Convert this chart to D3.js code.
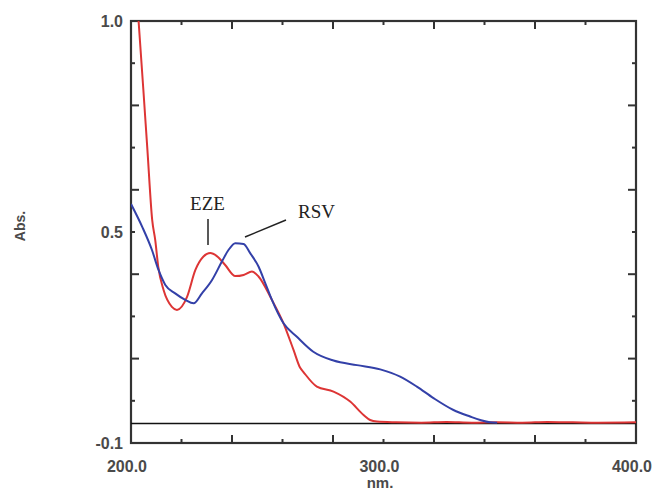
<!DOCTYPE html>
<html>
<head>
<meta charset="utf-8">
<script src="https://cdn.jsdelivr.net/npm/d3@7"></script>
<style>
  body { margin: 0; background: #fff; }
  svg { display: block; }
</style>
</head>
<body>
<div id="chart"></div>
<script>
// wavelength (nm) and absorbance
const ezeNm = [203.0, 204.9, 206.5, 208.4, 209.6, 210.8, 212.9, 216.2, 218.2, 222.2, 225.5, 228.7, 231.4, 234.0,
  237.3, 241.3, 244.6, 247.9, 250.5, 255.8, 260.4, 264.4, 267.0, 268.3, 273.6, 280.2, 286.8, 292.1, 294.7,
  297.4, 305, 315, 325, 335, 345, 355, 365, 375, 385, 400];
const ezeAbs = [1.0, 0.820, 0.664, 0.481, 0.429, 0.359, 0.299, 0.255, 0.247, 0.281, 0.351, 0.386, 0.395, 0.387,
  0.364, 0.335, 0.338, 0.347, 0.334, 0.273, 0.212, 0.142, 0.096, 0.085, 0.047, 0.034, 0.008, -0.027, -0.040,
  -0.044, -0.046, -0.047, -0.045, -0.047, -0.046, -0.047, -0.045, -0.046, -0.047, -0.046];

const rsvNm = [200.0, 204.4, 208.3, 210.9, 213.6, 217.5, 221.5, 224.8, 228.1, 232.1, 236.0, 238.6, 241.3, 244.6,
  247.2, 250.5, 253.2, 255.8, 260.4, 265.7, 272.2, 280.2, 289.5, 298.7, 306.6, 313.2, 319.8, 327.7, 334.3,
  338.3, 342.2, 345.0];
const rsvAbs = [0.523, 0.464, 0.403, 0.351, 0.312, 0.290, 0.273, 0.264, 0.290, 0.325, 0.373, 0.403, 0.421, 0.419,
  0.395, 0.360, 0.316, 0.273, 0.212, 0.177, 0.138, 0.115, 0.103, 0.092, 0.073, 0.047, 0.017, -0.014, -0.031,
  -0.040, -0.046, -0.047];

const xTickLabels = ["200.0", "300.0", "400.0"];
const yTickLabels = ["-0.1", "0.5", "1.0"];
const baselineAbs = -0.049;

const width = 655, height = 490;
const plot = { left: 131, right: 636, top: 21, bottom: 443 };

const svg = d3.select("#chart").append("svg")
  .attr("width", width)
  .attr("height", height);

const x = d3.scaleLinear().domain([200, 400]).range([plot.left, plot.right]);
const y = d3.scaleLinear().domain([-0.1, 1.0]).range([plot.bottom, plot.top]);

svg.append("clipPath").attr("id", "clip")
  .append("rect")
  .attr("x", plot.left).attr("y", plot.top)
  .attr("width", plot.right - plot.left).attr("height", plot.bottom - plot.top);

// minor ticks every 20 nm, longer every 40 nm
const xTicks = d3.range(220, 400, 20);
const yStep = 1.1 / 10;
const yTicks = d3.range(1, 10).map(k => -0.1 + k * yStep);

const tickG = svg.append("g").attr("stroke", "#333").attr("stroke-width", 2);
xTicks.forEach((t, i) => {
  const len = (i % 2 === 1) ? 8 : 4;
  tickG.append("line").attr("x1", x(t)).attr("x2", x(t)).attr("y1", plot.bottom).attr("y2", plot.bottom - len);
  tickG.append("line").attr("x1", x(t)).attr("x2", x(t)).attr("y1", plot.top).attr("y2", plot.top + len);
});
yTicks.forEach((t, i) => {
  const len = (i % 2 === 0) ? 4 : 8;
  tickG.append("line").attr("y1", y(t)).attr("y2", y(t)).attr("x1", plot.left).attr("x2", plot.left + len);
  tickG.append("line").attr("y1", y(t)).attr("y2", y(t)).attr("x1", plot.right).attr("x2", plot.right - len);
});

// frame
svg.append("rect")
  .attr("x", plot.left).attr("y", plot.top)
  .attr("width", plot.right - plot.left).attr("height", plot.bottom - plot.top)
  .attr("fill", "none").attr("stroke", "#333").attr("stroke-width", 2.2);

// tick labels: min, middle, max (like the instrument software)
const labelFont = "'Liberation Sans', Arial, sans-serif";
[200, 300, 400].forEach((v, i) => {
  svg.append("text")
    .attr("x", x(v) - 4).attr("y", 472)
    .attr("text-anchor", "middle")
    .style("font-family", labelFont).style("font-size", "16px").style("font-weight", "bold").style("fill", "#4a4a4a")
    .text(xTickLabels[i]);
});
[-0.1, 0.45, 1.0].forEach((v, i) => {
  svg.append("text")
    .attr("x", 123).attr("y", y(v) + 6)
    .attr("text-anchor", "end")
    .style("font-family", labelFont).style("font-size", "16px").style("font-weight", "bold").style("fill", "#4a4a4a")
    .text(yTickLabels[i]);
});

svg.append("text")
  .attr("x", 380).attr("y", 488)
  .attr("text-anchor", "middle")
  .style("font-family", labelFont).style("font-size", "15px").style("font-weight", "bold").style("fill", "#4a4a4a")
  .text("nm.");

svg.append("text")
  .attr("transform", "translate(25,226) rotate(-90)")
  .attr("text-anchor", "middle")
  .style("font-family", labelFont).style("font-size", "14px").style("font-weight", "bold").style("fill", "#4a4a4a")
  .text("Abs.");

const line = d3.line()
  .x(d => x(d[0]))
  .y(d => y(d[1]))
  .curve(d3.curveMonotoneX);

const curves = svg.append("g").attr("clip-path", "url(#clip)");

// baseline
curves.append("line")
  .attr("x1", x(200)).attr("x2", x(400))
  .attr("y1", y(baselineAbs)).attr("y2", y(baselineAbs))
  .attr("stroke", "#111").attr("stroke-width", 1.5);

curves.append("path")
  .datum(d3.zip(ezeNm, ezeAbs))
  .attr("d", line)
  .attr("fill", "none")
  .attr("stroke", "#dd3535")
  .attr("stroke-width", 2);

curves.append("path")
  .datum(d3.zip(rsvNm, rsvAbs))
  .attr("d", line)
  .attr("fill", "none")
  .attr("stroke", "#3340a8")
  .attr("stroke-width", 2);

// annotations
const serif = "'Liberation Serif', 'Times New Roman', serif";
svg.append("text")
  .attr("x", 207.5).attr("y", 210)
  .attr("text-anchor", "middle")
  .style("font-family", serif).style("font-size", "19px").style("fill", "#222")
  .text("EZE");
svg.append("line")
  .attr("x1", 208).attr("x2", 208).attr("y1", 219).attr("y2", 245)
  .attr("stroke", "#222").attr("stroke-width", 1.5);

svg.append("text")
  .attr("x", 298).attr("y", 218)
  .style("font-family", serif).style("font-size", "19px").style("fill", "#222")
  .text("RSV");
svg.append("line")
  .attr("x1", 245).attr("y1", 237).attr("x2", 286).attr("y2", 220)
  .attr("stroke", "#222").attr("stroke-width", 1.5);
</script>
</body>
</html>
